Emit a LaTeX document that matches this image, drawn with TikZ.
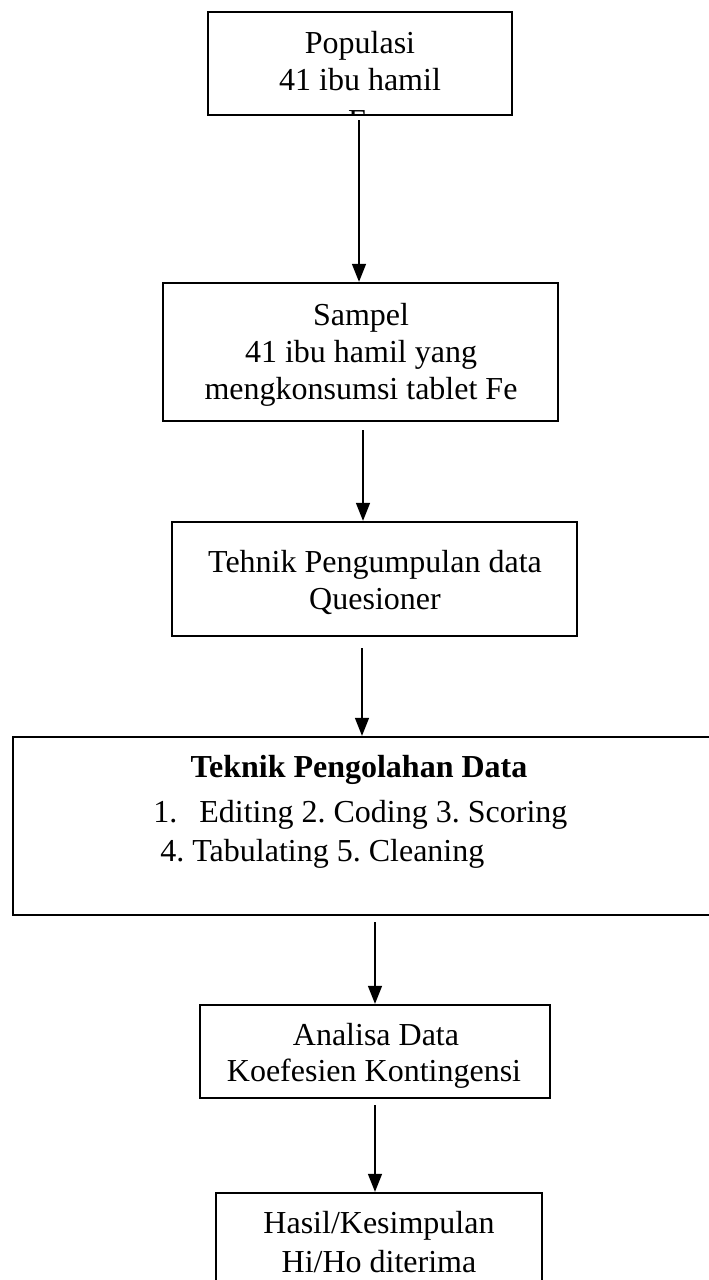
\documentclass[tikz,border=0pt]{standalone}
\usepackage{fontspec}
\setmainfont{Liberation Serif}
\usetikzlibrary{arrows.meta}
\frenchspacing
\begin{document}
\begin{tikzpicture}[x=0.5pt,y=-0.5pt,
  box/.style={draw=black, line width=1.2pt, inner sep=0pt, fill=none},
  txt/.style={inner sep=0pt, anchor=base, font=\fontsize{16pt}{18.5pt}\selectfont\frenchspacing},
  txtl/.style={inner sep=0pt, anchor=base west, font=\fontsize{16pt}{18.5pt}\selectfont\frenchspacing},
  arr/.style={line width=0.7pt, -{Triangle[width=7pt,length=9pt]}}]
\useasboundingbox (0,0) rectangle (708,1280);
\fill[white] (0,0) rectangle (708,1280);

% Box 1 (text clipped at the bottom)
\begin{scope}
  \clip (208,12) rectangle (512,114);
  \node[txt] (t1a) at (360,53) {Populasi};
  \node[txt] (t1b) at (360,90) {41 ibu hamil};
  \node[txt] (t1c) at (364,131) {Fe};
\end{scope}
\node[box, minimum width=152pt, minimum height=51.5pt] (b1) at (360,63.5) {};

% Box 2
\node[box, minimum width=197.5pt, minimum height=69pt] (b2) at (360.5,352) {};
\node[txt] (t2a) at (361,325) {Sampel};
\node[txt] (t2b) at (361,362) {41 ibu hamil yang};
\node[txt] (t2c) at (361,399) {mengkonsumsi tablet Fe};

% Box 3
\node[box, minimum width=202.5pt, minimum height=57pt] (b3) at (374.5,579) {};
\node[txt] (t3a) at (375,572) {Tehnik Pengumpulan data};
\node[txt] (t3b) at (375,609) {Quesioner};

% Box 4
\node[box, minimum width=358.5pt, minimum height=89pt] (b4) at (371.5,826) {};
\node[txt, font=\fontsize{16pt}{18.5pt}\selectfont\bfseries] (t4a) at (359,777) {Teknik Pengolahan Data};
\node[txtl] (t4n) at (153,822) {1.};
\node[txtl] (t4b) at (199,822) {Editing 2. Coding 3. Scoring};
\node[txtl] (t4c) at (160,861) {4. Tabulating 5. Cleaning};

% Box 5
\node[box, minimum width=175pt, minimum height=46.5pt] (b5) at (375,1051.5) {};
\node[txt] (t5a) at (376,1045) {Analisa Data};
\node[txt] (t5b) at (374,1081) {Koefesien Kontingensi};

% Box 6
\node[box, minimum width=163pt, minimum height=53.5pt] (b6) at (379,1246.5) {};
\node[txt] (t6a) at (379,1233) {Hasil/Kesimpulan};
\node[txt] (t6b) at (379,1272) {Hi/Ho diterima};

% Arrow start points
\coordinate (a1) at (359,120);
\coordinate (a2) at (363,430);
\coordinate (a3) at (362,648);
\coordinate (a4) at (375,922);
\coordinate (a5) at (375,1105);

\draw[arr] (a1) -- (b2.north -| a1);
\draw[arr] (a2) -- (b3.north -| a2);
\draw[arr] (a3) -- (b4.north -| a3);
\draw[arr] (a4) -- (b5.north -| a4);
\draw[arr] (a5) -- (b6.north -| a5);
\end{tikzpicture}
\end{document}
